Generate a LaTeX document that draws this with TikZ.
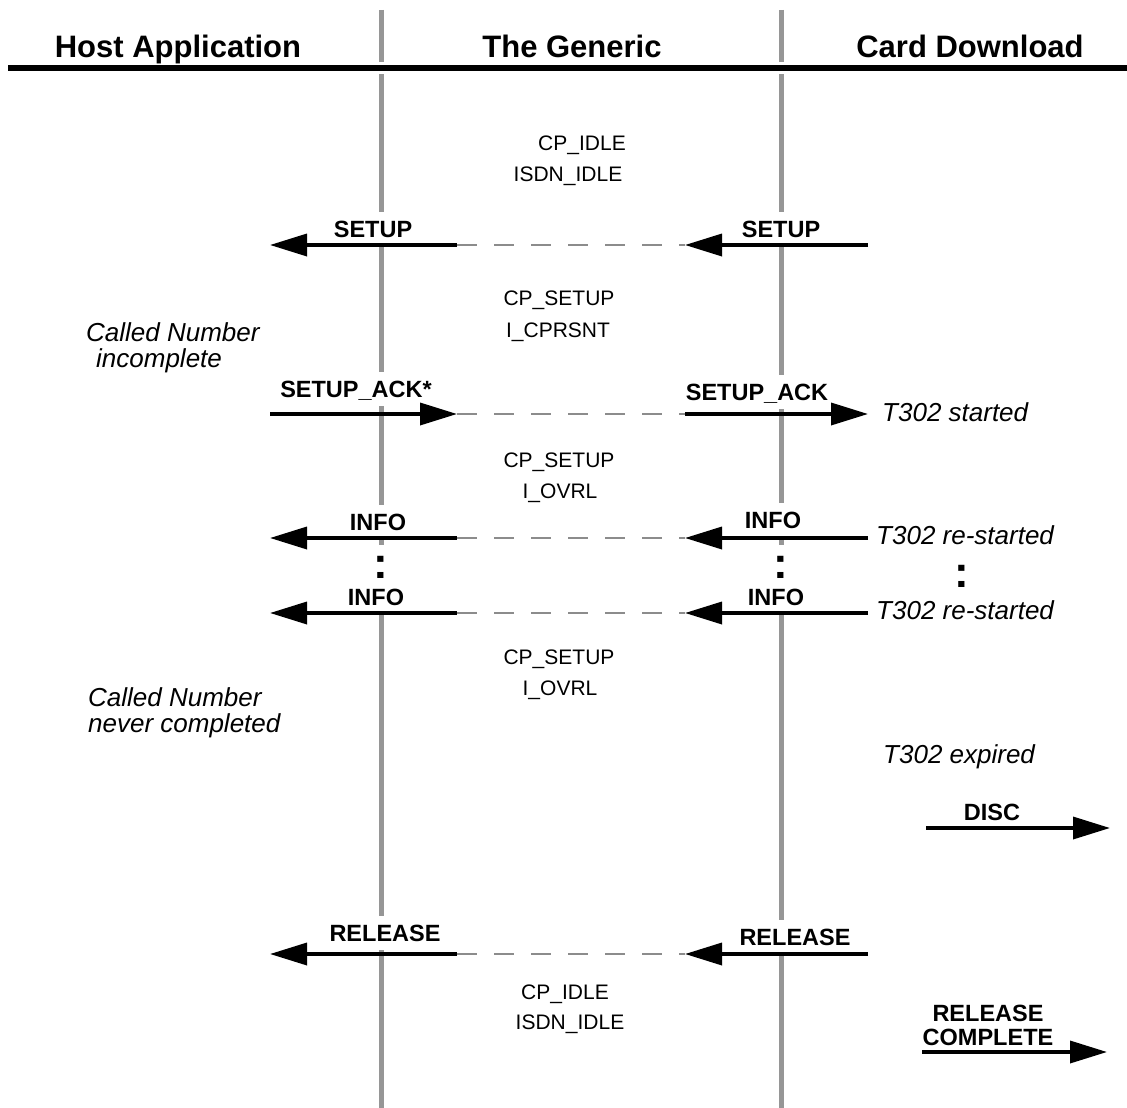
\documentclass[tikz,border=0pt]{standalone}
\usepackage{fontspec}
\setmainfont{Liberation Sans}
\usetikzlibrary{arrows.meta}
\definecolor{lifegray}{HTML}{969696}
\definecolor{relaygray}{HTML}{8C8C8C}
\tikzset{
  title/.style={font=\fontsize{31}{36}\selectfont\bfseries, inner sep=0pt, anchor=base},
  msgbase/.style={font=\fontsize{23.5}{24}\selectfont\bfseries, fill=white, inner xsep=2pt, inner ysep=0pt},
  msg/.style={msgbase, text height=17pt, text depth=0pt, minimum height=34pt},
  state/.style={font=\fontsize{21}{25}\selectfont, inner sep=0pt, text height=15pt, text depth=0pt},
  note/.style={font=\fontsize{26}{25.5}\selectfont\itshape, inner sep=0pt, anchor=base west, align=left},
  dotsmark/.style={font=\fontsize{44}{44}\selectfont\bfseries, inner sep=0pt, fill=white,
              text height=24pt, text depth=0pt, minimum height=42pt, minimum width=10pt},
  sig/.style={line width=3.5pt, -{Triangle[length=37pt,width=22pt]}},
  relay/.style={line width=1.4pt, draw=relaygray, dash pattern=on 20pt off 17pt},
  lifeline/.style={line width=5pt, draw=lifegray},
}
\begin{document}
\begin{tikzpicture}[x=1pt, y=-1pt]
\useasboundingbox (0,0) rectangle (1127,1108);

% lifelines
\coordinate (hTop) at (381,10);  \coordinate (hBot) at (381,1108);
\coordinate (cTop) at (781,10);  \coordinate (cBot) at (781,1108);
\draw[lifeline] (hTop) -- (hBot);
\draw[lifeline] (cTop) -- (cBot);

% header
\coordinate (hdrL) at (8,68); \coordinate (hdrR) at (1127,68);
\draw[white, line width=12pt] (hdrL) -- (hdrR);
\draw[black, line width=6pt] (hdrL) -- (hdrR);
\node[title] (tHost) at (178,58) {Host Application};
\node[title] (tGen)  at (572,58) {The Generic};
\node[title] (tCard) at (970,58) {Card Download};

% states
\node[state] (st1a) at (582,143) {CP\_IDLE};
\node[state] (st1b) at (568,174) {ISDN\_IDLE};
\node[state] (st2a) at (559,298) {CP\_SETUP};
\node[state] (st2b) at (558,330) {I\_CPRSNT};
\node[state] (st3a) at (559,460) {CP\_SETUP};
\node[state] (st3b) at (560,491) {I\_OVRL};
\node[state] (st4a) at (559,657) {CP\_SETUP};
\node[state] (st4b) at (560,688) {I\_OVRL};
\node[state] (st5a) at (565,992) {CP\_IDLE};
\node[state] (st5b) at (570,1022) {ISDN\_IDLE};

% notes
\node[note] (n1) at (86,367) {Called Number\\\hspace*{10pt}incomplete};
\node[note] (n2) at (88,732) {Called Number\\never completed};
\node[note] (n3) at (882,421) {T302 started};
\node[note] (n4) at (876,544) {T302 re-started};
\node[note] (n5) at (876,619) {T302 re-started};
\node[note] (n6) at (883,763) {T302 expired};

% message labels
\node[msg] (lSetupH) at (373,229) {SETUP};
\node[msg] (lSetupC) at (781,229) {SETUP};
\node[msg] (lAckH) at (356,389) {SETUP\_ACK*};
\node[msg] (lAckC) at (757,392) {SETUP\_ACK};
\node[msg] (lInfo1H) at (378,522) {INFO};
\node[msg] (lInfo1C) at (773,520) {INFO};
\node[dotsmark] (dH) at (381,566) {:};
\node[dotsmark] (dC) at (781,566) {:};
\node[dotsmark, fill=none] (dT) at (962,575) {:};
\node[msg] (lInfo2H) at (376,597) {INFO};
\node[msg] (lInfo2C) at (776,597) {INFO};
\node[msg] (lDisc) at (992,812) {DISC};
\node[msg] (lRelH) at (385,933) {RELEASE};
\node[msg] (lRelC) at (795,937) {RELEASE};
\node[msgbase, align=center] (lRelComp) at (988,1025) {RELEASE\\COMPLETE};

% SETUP
\coordinate (s1) at (868,245); \coordinate (s2) at (685,245); \coordinate (s3) at (457,245); \coordinate (s4) at (270,245);
\draw[sig] (s1) -- (s2);
\draw[relay] (s3) -- (s2);
\draw[sig] (s3) -- (s4);

% SETUP_ACK
\coordinate (a1) at (270,414); \coordinate (a2) at (457,414); \coordinate (a3) at (685,414); \coordinate (a4) at (868,414);
\draw[sig] (a1) -- (a2);
\draw[relay] (a2) -- (a3);
\draw[sig] (a3) -- (a4);

% INFO 1
\coordinate (i1) at (868,538); \coordinate (i2) at (685,538); \coordinate (i3) at (457,538); \coordinate (i4) at (270,538);
\draw[sig] (i1) -- (i2);
\draw[relay] (i3) -- (i2);
\draw[sig] (i3) -- (i4);

% INFO 2
\coordinate (j1) at (868,613); \coordinate (j2) at (685,613); \coordinate (j3) at (457,613); \coordinate (j4) at (270,613);
\draw[sig] (j1) -- (j2);
\draw[relay] (j3) -- (j2);
\draw[sig] (j3) -- (j4);

% DISC
\coordinate (d1) at (926,828); \coordinate (d2) at (1110,828);
\draw[sig] (d1) -- (d2);

% RELEASE
\coordinate (r1) at (868,954); \coordinate (r2) at (685,954); \coordinate (r3) at (457,954); \coordinate (r4) at (270,954);
\draw[sig] (r1) -- (r2);
\draw[relay] (r3) -- (r2);
\draw[sig] (r3) -- (r4);

% RELEASE COMPLETE
\coordinate (c1) at (922,1052); \coordinate (c2) at (1107,1052);
\draw[sig] (c1) -- (c2);
\end{tikzpicture}
\end{document}
